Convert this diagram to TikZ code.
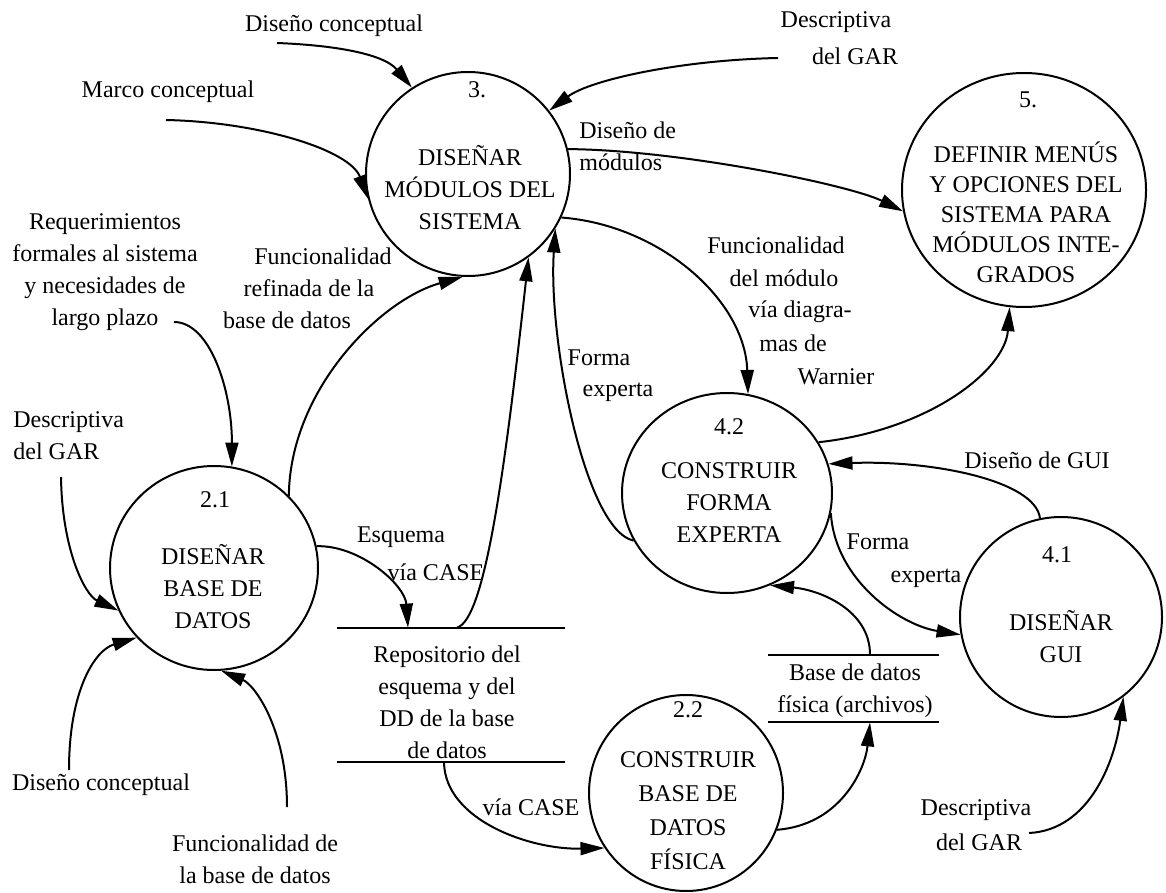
\documentclass[tikz,border=0pt]{standalone}
\usepackage{fontspec}
\setmainfont{Liberation Serif}
\usetikzlibrary{shapes.geometric,arrows.meta}
\begin{document}
\begin{tikzpicture}[x=0.5pt,y=-0.5pt,
  proc/.style={draw,ellipse,line width=1pt,inner sep=0pt},
  txt/.style={font=\fontsize{12}{16}\selectfont,align=center,inner sep=0pt},
  flow/.style={line width=1pt,-{Triangle[length=12pt,width=6.5pt]}},
  storebox/.style={draw=none,inner sep=0pt},
  storeline/.style={line width=1pt}]
\useasboundingbox (0,0) rectangle (1166,893);

% processes
\node[proc,minimum width=102pt,minimum height=102pt] (c3) at (468,174) {};
\node[proc,minimum width=122pt,minimum height=117pt] (c5) at (1024,190) {};
\node[proc,minimum width=105pt,minimum height=100pt] (c42) at (727,493) {};
\node[proc,minimum width=101pt,minimum height=100pt] (c41) at (1061,617) {};
\node[proc,minimum width=104pt,minimum height=102pt] (c21) at (214,568) {};
\node[proc,minimum width=97pt,minimum height=98pt] (c22) at (686,793) {};

% process texts
\node[txt] (n3) at (477,90) {3.};
\node[txt] (t3) at (470,188) {DISEÑAR\\MÓDULOS DEL\\SISTEMA};
\node[txt] (n5) at (1028,100) {5.};
\node[txt,font=\fontsize{12}{15}\selectfont] (t5) at (1026,212) {DEFINIR MENÚS\\Y OPCIONES DEL\\SISTEMA PARA\\MÓDULOS INTE-\\GRADOS};
\node[txt] (n42) at (729,427) {4.2};
\node[txt] (t42) at (729,503) {CONSTRUIR\\FORMA\\EXPERTA};
\node[txt] (n41) at (1057,555) {4.1};
\node[txt] (t41) at (1061,637) {DISEÑAR\\GUI};
\node[txt] (n21) at (215,500) {2.1};
\node[txt] (t21) at (213,587) {DISEÑAR\\BASE DE\\DATOS};
\node[txt] (n22) at (688,710) {2.2};
\node[txt,font=\fontsize{12}{17}\selectfont] (t22) at (688,811) {CONSTRUIR\\BASE DE\\DATOS\\FÍSICA};

% data stores
\node[storebox,minimum width=114pt,minimum height=67pt] (s1) at (451,695) {};
\draw[storeline] (s1.north west) -- (s1.north east);
\draw[storeline] (s1.south west) -- (s1.south east);
\node[txt] (l13) at (447,702) {Repositorio del\\esquema y del\\DD de la base\\de datos};
\node[storebox,minimum width=85.5pt,minimum height=33.5pt] (s2) at (853.5,688.5) {};
\draw[storeline] (s2.north west) -- (s2.north east);
\draw[storeline] (s2.south west) -- (s2.south east);
\node[txt] (l14) at (855,691) {Base de datos\\física (archivos)};

% flow labels
\node[txt] (l1) at (334,26) {Diseño conceptual};
\node[txt] (l2a) at (836,22) {Descriptiva};
\node[txt] (l2b) at (855,56) {del GAR};
\node[txt] (l3) at (168,92) {Marco conceptual};
\node[txt,anchor=west,align=left] (l4) at (579,146) {Diseño de\\módulos};
\node[txt] (l5) at (105,272) {Requerimientos\\formales al sistema\\y necesidades de\\largo plazo};
\node[txt] (l6a) at (323,256) {Funcionalidad};
\node[txt] (l6b) at (309,288) {refinada de la};
\node[txt] (l6c) at (287,320) {base de datos};
\node[txt] (l7a) at (776,245) {Funcionalidad};
\node[txt] (l7b) at (784,278) {del módulo};
\node[txt] (l7c) at (800,312) {vía diagra-};
\node[txt] (l7d) at (793,343) {mas de};
\node[txt] (l7e) at (836,377) {Warnier};
\node[txt] (l8a) at (599,358) {Forma};
\node[txt] (l8b) at (618,392) {experta};
\node[txt,anchor=west,align=left] (l9) at (13,436) {Descriptiva\\del GAR};
\node[txt] (l10a) at (401,537) {Esquema};
\node[txt] (l10b) at (436,572) {vía CASE};
\node[txt] (l11) at (1037,460) {Diseño de GUI};
\node[txt] (l12a) at (878,542) {Forma};
\node[txt] (l12b) at (926,578) {experta};
\node[txt] (l15) at (531,807) {vía CASE};
\node[txt] (l16) at (101,785) {Diseño conceptual};
\node[txt] (l17) at (255,859) {Funcionalidad de\\la base de datos};
\node[txt] (l18a) at (976,810) {Descriptiva};
\node[txt] (l18b) at (979,842) {del GAR};

% free ends of external flows
\coordinate (e1) at (277,43);
\coordinate (e2) at (166,120);
\coordinate (e3) at (778,58);
\coordinate (e4) at (174,322);
\coordinate (e5) at (61,477);
\coordinate (e6) at (69,770);
\coordinate (e7) at (287,807);
\coordinate (e8) at (1029,833);

% flows
\draw[flow] (e1) .. controls (330,45) and (383,53) .. (c3.123);
\draw[flow] (e2) .. controls (260,122) and (350,150) .. (c3.194);
\draw[flow] (e3) .. controls (680,60) and (590,80) .. (c3.38);
\draw[flow] (c3.14) .. controls (680,150) and (850,185) .. (c5.190);
\draw[flow] (c3.-25) .. controls (660,225) and (745,300) .. (c42.78);
\draw[flow] (c42.29) .. controls (930,430) and (1005,370) .. (c5.-97);
\draw[flow] (c42.207) .. controls (585,530) and (548,340) .. (c3.-32);
\draw[flow] ([xshift=3pt]s1.north) .. controls (485,620) and (505,470) .. (c3.-54);
\draw[flow] (c21.12) .. controls (360,545) and (405,585) .. ([xshift=-21.5pt]s1.north);
\draw[flow] (c21.44) .. controls (290,390) and (380,300) .. (c3.-93);
\draw[flow] (e4) .. controls (210,322) and (232,390) .. (c21.80);
\draw[flow] (e5) .. controls (62,550) and (85,595) .. (c21.204);
\draw[flow] (e6) .. controls (69,690) and (95,650) .. (c21.222);
\draw[flow] (e7) .. controls (287,730) and (255,685) .. (c21.-86);
\draw[flow] ([xshift=-3.5pt]s1.south) .. controls (445,820) and (530,850) .. (c22.214);
\draw[flow] (c22.-22) .. controls (840,825) and (865,770) .. ([xshift=8.25pt]s2.south);
\draw[flow] ([xshift=8.25pt]s2.north) .. controls (870,610) and (820,590) .. (c42.-65);
\draw[flow] (c42.-11) .. controls (835,580) and (900,625) .. (c41.190);
\draw[flow] (c41.102) .. controls (1035,480) and (930,460) .. (c42.16);
\draw[flow] (e8) .. controls (1090,830) and (1115,760) .. (c41.-52);
\end{tikzpicture}
\end{document}
